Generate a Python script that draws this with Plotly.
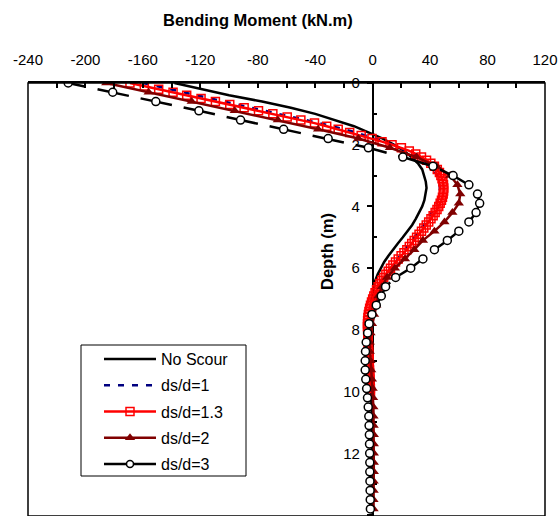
import plotly.graph_objects as go

# ---------------- data ----------------
# No Scour
ns_depth = [0.0, 0.2, 0.4, 0.6, 0.8, 1.0, 1.2, 1.4, 1.6, 1.8, 2.0, 2.2, 2.4, 2.6, 2.8, 3.0, 3.2, 3.4,
            3.6, 3.8, 4.0, 4.2, 4.4, 4.6, 4.8, 5.0, 5.2, 5.4, 5.6, 5.8, 6.0, 6.2, 6.4, 6.6, 6.8,
            7.0, 7.4, 7.8, 8.2, 8.6, 9.0, 9.5, 10.0, 10.5, 11.0, 12.0, 13.0, 14.0]
ns_moment = [-138, -119, -100, -77, -57, -40, -26, -13, -3, 7, 15, 22, 27, 31.5, 34.5, 36, 37, 37.5,
             37, 36, 34.5, 32.5, 30, 27.5, 24.5, 21, 17.5, 14, 11, 8, 5.5, 3.5, 1.8, 0.8, 0,
             -0.8, -1.5, -2, -2.2, -2.2, -2, -1.6, -1.2, -0.8, -0.5, -0.2, 0, 0]

# ds/d = 1
d1_depth = [0.0, 0.2, 0.4, 0.6, 0.8, 1.0, 1.2, 1.4, 1.6, 1.8, 2.0, 2.2, 2.4, 2.6, 2.8, 3.0, 3.2, 3.4,
            3.6, 3.8, 4.0, 4.2, 4.4, 4.6, 4.8, 5.0, 5.2, 5.4, 5.6, 5.8, 6.0, 6.2, 6.4, 6.6, 6.8,
            7.0, 7.2, 7.4, 7.6, 7.8, 8.0, 8.5, 9.0, 9.5, 10.0]
d1_moment = [-160, -141, -122, -103, -84, -65, -46, -28, -12, 2, 14, 24, 32, 38, 42.5, 45, 46.3, 46.8,
             46.5, 45.3, 43.5, 41.3, 38.6, 35.5, 32.3, 29, 25.8, 22.5, 19.2, 15.8, 12.4, 9.2, 6.3, 3.8, 1.7,
             0, -1.3, -2.3, -3, -3.4, -3.5, -3.2, -2.6, -2, -1.5]

# ds/d = 1.3
d13_depth = [0.0, 0.1, 0.2, 0.3, 0.4, 0.5, 0.6, 0.7, 0.8, 0.9,
             1.0, 1.1, 1.2, 1.3, 1.4, 1.5, 1.6, 1.7, 1.8, 1.9,
             2.0, 2.1, 2.2, 2.3, 2.4, 2.5, 2.6, 2.7, 2.8, 2.9,
             3.0, 3.1, 3.2, 3.3, 3.4, 3.5, 3.6, 3.7, 3.8, 3.9,
             4.0, 4.1, 4.2, 4.3, 4.4, 4.5, 4.6, 4.7, 4.8, 4.9,
             5.0, 5.1, 5.2, 5.3, 5.4, 5.5, 5.6, 5.7, 5.8, 5.9,
             6.0, 6.1, 6.2, 6.3, 6.4, 6.5, 6.6, 6.7, 6.8, 6.9,
             7.0, 7.1, 7.2, 7.3, 7.4, 7.5, 7.6, 7.7, 7.8, 7.9,
             8.0, 8.1, 8.2, 8.3, 8.4, 8.5, 8.6, 8.7, 8.8, 8.9,
             9.0, 9.1, 9.2, 9.3, 9.4, 9.5, 9.6, 9.7, 9.8, 9.9, 10.0]
d13_moment = [-169, -159, -149, -139, -129.5, -119.5, -109.5, -99.5, -89.5, -79.5,
              -69.5, -59.5, -50, -40.5, -32, -24, -16, -8, -0.5, 6.5,
              13.5, 20, 25.5, 30, 34, 37.5, 40.5, 43, 45, 46.5,
              47.5, 48.3, 48.9, 49.3, 49.5, 49.4, 49.1, 48.6, 47.9, 47,
              46, 44.8, 43.5, 42.1, 40.6, 39, 37.3, 35.6, 34, 32.3,
              30.6, 28.9, 27.2, 25.5, 23.8, 21.8, 19.8, 17.8, 15.9, 14.1,
              12.4, 10.8, 9.2, 7.7, 6.3, 5.0, 3.8, 2.7, 1.7, 0.8,
              0, -0.8, -1.5, -2.1, -2.6, -3, -3.3, -3.5, -3.6, -3.6,
              -3.5, -3.4, -3.3, -3.2, -3.1, -3, -2.9, -2.8, -2.7, -2.6,
              -2.5, -2.4, -2.3, -2.2, -2.1, -2, -1.9, -1.8, -1.7, -1.6, -1.5]

# ds/d = 2
d2_depth = [0.0, 0.3, 0.6, 0.9, 1.2, 1.5, 1.8, 2.1, 2.4, 2.7, 3.0, 3.3, 3.6, 3.9, 4.2, 4.5,
            4.8, 5.1, 5.4, 5.7, 6.0, 6.3, 6.6, 6.9, 7.2, 7.5, 7.8, 8.1, 8.4, 8.7, 9.0, 9.3,
            9.6, 9.9, 10.2, 10.5, 10.8, 11.1, 11.4, 11.7, 12.0, 12.3, 12.6, 12.9, 13.2, 13.5, 13.8]
d2_moment = [-185.5, -156, -126, -96, -66, -38, -10, 12, 30.5, 44.5, 54, 59, 61, 60, 55.5, 50,
             43, 35, 29, 22.5, 15.5, 10, 6.5, 4, 2.5, 1, -0.5, -1.5, -2, -2, -1.5, -1,
             -0.5, 0, 0.3, 0.5, 0.6, 0.7, 0.8, 0.8, 0.8, 0.8, 0.8, 0.7, 0.7, 0.6, 0.6]

# ds/d = 3
d3_depth = [0.0, 0.3, 0.6, 0.9, 1.2, 1.5, 1.8, 2.1, 2.4, 2.7, 3.0, 3.3, 3.6, 3.9, 4.2, 4.5,
            4.8, 5.1, 5.4, 5.7, 6.0, 6.3, 6.6, 6.9, 7.2, 7.5, 7.8, 8.1, 8.4, 8.7, 9.0, 9.3,
            9.6, 9.9, 10.2, 10.5, 10.8, 11.1, 11.4, 11.7, 12.0, 12.3, 12.6, 12.9, 13.2, 13.5, 13.8]
d3_moment = [-212, -181, -151, -121, -92, -62, -31, -3, 21, 42, 56, 67, 73, 74.5, 72, 67,
             60, 52, 43, 35, 26.5, 16, 9, 6, 2.5, -0.5, -2.5, -3.5, -4.5, -5, -5.2, -5.2,
             -4.8, -4.2, -3.6, -3.1, -2.7, -2.5, -2.3, -2.2, -2.1, -2, -2, -1.9, -1.8, -1.7, -1.6]

x_ticks = [-240, -200, -160, -120, -80, -40, 0, 40, 80, 120]
x_labels = ["-240", "-200", "-160", "-120", "-80", "-40", "0", "40", "80", "120"]
x_minor = [-220, -180, -140, -100, -60, -20, 20, 60, 100]
y_ticks = [0, 2, 4, 6, 8, 10, 12, 14]
y_labels = ["0", "2", "4", "6", "8", "10", "12", "14"]
y_minor = [1, 3, 5, 7, 9, 11, 13]

# ---------------- figure ----------------
FONT = "Liberation Sans, Arial, sans-serif"
d3_dash = ",".join(["18px", "12px"] + ["32px", "12px"] * 60)

# pixel helpers for the paper coordinates (plot area 28..545 x 83..516)
L, T, W, H = 28, 83, 517, 433
def px_x(p):
    return (p - L) / W
def px_y(p):
    return (T + H - p) / H

fig = go.Figure()
fig.add_trace(go.Scatter(x=ns_moment, y=ns_depth, mode="lines", name="No Scour",
                         legendgroup="g1", line=dict(color="black", width=2.5)))
fig.add_trace(go.Scatter(x=d1_moment, y=d1_depth, mode="lines", name="ds/d=1",
                         legendgroup="g2", line=dict(color="#000080", width=2.5, dash="6px,8px")))
fig.add_trace(go.Scatter(x=d13_moment, y=d13_depth, mode="lines+markers", name="ds/d=1.3",
                         legendgroup="g3", line=dict(color="#FF0000", width=2.5),
                         marker=dict(symbol="square-open", size=8, color="#FF0000",
                                     line=dict(width=1.5, color="#FF0000"))))
fig.add_trace(go.Scatter(x=d2_moment, y=d2_depth, mode="lines+markers", name="ds/d=2",
                         legendgroup="g4", line=dict(color="#800000", width=2.5),
                         marker=dict(symbol="triangle-up", size=9, color="#800000")))
fig.add_trace(go.Scatter(x=d3_moment, y=d3_depth, mode="lines+markers", name="ds/d=3",
                         legendgroup="g5", showlegend=False,
                         line=dict(color="black", width=2.5, dash=d3_dash),
                         marker=dict(symbol="circle", size=8, color="white",
                                     line=dict(width=1.5, color="black"))))
fig.add_trace(go.Scatter(x=[None], y=[None], mode="lines+markers", name="ds/d=3",
                         legendgroup="g5",
                         line=dict(color="black", width=2.5),
                         marker=dict(symbol="circle", size=7, color="white",
                                     line=dict(width=1.5, color="black"))))

fig.update_layout(
    width=558, height=516,
    margin=dict(l=L, r=558 - L - W, t=T, b=0, pad=0, autoexpand=False),
    paper_bgcolor="white", plot_bgcolor="white",
    font=dict(family=FONT, size=15, color="black"),
    xaxis=dict(side="top", range=[-240, 120], tickmode="array", tickvals=x_ticks,
               ticktext=x_labels,
               ticks="inside", ticklen=5, tickwidth=1.5, tickcolor="black",
               minor=dict(tickmode="array", tickvals=x_minor, ticks="inside", ticklen=5,
                          tickwidth=1.5, tickcolor="black"),
               showline=True, linecolor="black", linewidth=1.5, automargin=False,
               showgrid=False, zeroline=False, ticklabelstandoff=10,
               tickfont=dict(family=FONT, size=15)),
    yaxis=dict(range=[14.03, 0], anchor="free", position=240 / 360,
               tickmode="array", tickvals=y_ticks, ticktext=y_labels, automargin=False,
               ticks="outside", ticklen=5, tickwidth=1.5, tickcolor="black",
               minor=dict(tickmode="array", tickvals=y_minor, ticks="inside", ticklen=4,
                          tickwidth=1.5, tickcolor="black"),
               showline=True, linecolor="black", linewidth=1.5, ticklabelstandoff=4,
               showgrid=False, zeroline=False, layer="below traces",
               tickfont=dict(family=FONT, size=15)),
    showlegend=True,
    legend=dict(x=px_x(99), y=px_y(342), xanchor="left", yanchor="top",
                bgcolor="rgba(0,0,0,0)", borderwidth=0,
                font=dict(family=FONT, size=16), tracegroupgap=2.5, itemwidth=52),
    shapes=[
        dict(type="rect", xref="paper", yref="paper", x0=0, x1=1, y0=0, y1=1,
             line=dict(color="black", width=1.5), layer="above"),
        dict(type="rect", xref="paper", yref="paper",
             x0=px_x(81), x1=px_x(246), y0=px_y(476), y1=px_y(345),
             line=dict(color="black", width=1), fillcolor="white", layer="above"),
    ],
    annotations=[
        dict(text="<b>Bending Moment (kN.m)</b>", xref="paper", yref="paper",
             x=px_x(258), y=px_y(20), xanchor="center", yanchor="middle",
             showarrow=False, font=dict(family=FONT, size=16.5)),
        dict(text="<b>Depth (m)</b>", xref="paper", yref="paper",
             x=px_x(327), y=px_y(252), xanchor="center", yanchor="middle",
             textangle=-90, showarrow=False, font=dict(family=FONT, size=16.5)),
    ],
)

fig.write_html("out.html", config={"displayModeBar": False},
               post_script="document.body.style.margin='0';document.body.style.padding='0';")
